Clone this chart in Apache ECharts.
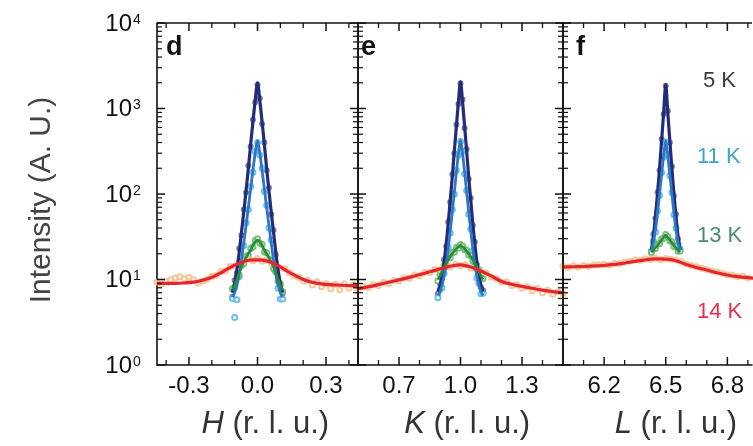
<!DOCTYPE html>
<html>
<head>
<meta charset="utf-8">
<script src="https://cdn.jsdelivr.net/npm/echarts@6/dist/echarts.min.js"></script>
<style>
  html, body { margin: 0; padding: 0; background: #fff; }
  #chart { width: 753px; height: 446px; }
</style>
</head>
<body>
<div id="chart"></div>
<script>
// ---- Panel d: scan along H ----
const hPk = [-0.11,-0.10,-0.09,-0.08,-0.07,-0.06,-0.05,-0.04,-0.03,-0.02,-0.01,0,0.01,0.02,0.03,0.04,0.05,0.06,0.07,0.08,0.09,0.10,0.11];
const d5Fit  = [7,9,13,21,36,62,110,200,380,700,1250,2000,1250,700,380,200,110,62,36,21,13,9,7];
const d5Pts  = [6.3,9.8,12,23,33,66,104,215,360,740,1180,1900,1320,660,400,190,118,58,38,19.5,14,8.4,6.8];
const d11Fit = [6.2,7,8.5,11.5,17,27,43,70,115,190,300,420,300,190,115,70,43,27,17,11.5,8.5,7,6.2];
const d11Pts = [6.0,3.6,5.8,10.8,18,25,46,66,122,180,315,400,285,200,108,74,40,29,16,12.3,7.9,5.9,5.9];
const d13Fit = [7.5,8.5,10,12,14,16,18,20,22,25,27.5,29,27.5,25,22,20,18,16,14,12,10,8.5,7.5];
const d13Pts = [7.8,8.1,10.6,11.4,14.6,15.3,18.8,19.2,23,24,28.5,30,26.5,25.8,21,20.6,17.2,16.8,13.4,12.5,9.6,8.9,7.2];
const hWide  = [-0.44,-0.40,-0.36,-0.32,-0.28,-0.24,-0.20,-0.16,-0.12,-0.08,-0.04,0,0.04,0.08,0.12,0.16,0.20,0.24,0.28,0.32,0.36,0.40,0.44];
const d14Fit = [9.0,9.0,9.0,9.1,9.3,9.8,10.6,12,13.8,15.5,16.8,17,16.5,15,13,11.3,10,9.3,8.9,8.7,8.6,8.5,8.5];
const hPts14 = [-0.44,-0.42,-0.40,-0.38,-0.36,-0.34,-0.32,-0.30,-0.28,-0.26,-0.24,-0.22,-0.20,-0.18,-0.16,-0.14,-0.12,-0.10,-0.08,-0.06,-0.04,-0.02,0,0.02,0.04,0.06,0.08,0.10,0.12,0.14,0.16,0.18,0.20,0.22,0.24,0.26,0.28,0.30,0.32,0.34,0.36,0.38,0.40,0.42,0.44];
const d14Pts = [9.3,8.8,9.5,9.9,10.4,10.8,10.2,10.6,9.9,9.1,9.6,10.1,10.9,11.2,12.4,12.6,14.2,14.4,15.9,16.1,17.3,16.6,17.6,16.4,16.9,15.4,15.3,13.6,13.4,11.9,11.0,10.6,9.6,9.8,8.6,9.4,8.2,8.9,7.8,8.8,7.6,8.9,7.9,8.7,8.2];

// ---- Panel e: scan along K ----
const kPk = [0.89,0.90,0.91,0.92,0.93,0.94,0.95,0.96,0.97,0.98,0.99,1.00,1.01,1.02,1.03,1.04,1.05,1.06,1.07,1.08,1.09,1.10,1.11];
const e5Fit  = [7.2,8.5,11,16,26,45,85,160,320,620,1200,2050,1200,620,320,160,85,45,26,16,11,8.5,7.2];
const e5Pts  = [6.8,8.9,10.4,17,24.5,47,80,170,300,650,1130,1980,1270,590,335,150,90,43,27.5,15,11.6,8.1,7.5];
const e11Fit = [6.5,7.2,8.5,11,15,23,37,62,105,180,300,430,300,180,105,62,37,23,15,11,8.5,7.2,6.5];
const e11Pts = [6.1,7.6,8.0,11.8,14.2,24,35,66,99,190,285,410,315,172,110,58,39,21.5,15.8,10.4,9.0,6.8,6.9];
const e13Fit = [10,11,12.5,14,15.5,17,18.5,20,21.5,23,24,25,24,23,21.5,20,18.5,17,15.5,14,12.5,11,10];
const e13Pts = [9.6,11.5,12.1,14.6,15.0,17.8,18.0,20.8,20.9,23.8,23.4,25.6,24.6,22.3,22.2,19.4,19.1,16.4,16.1,13.5,13.0,10.5,10.3];
const kWide  = [0.50,0.55,0.60,0.65,0.70,0.75,0.80,0.85,0.90,0.95,1.00,1.05,1.10,1.15,1.20,1.25,1.30,1.35,1.40,1.45,1.50];
const e14Fit = [7.8,8.2,8.7,9.3,9.9,10.6,11.4,12.3,13.3,14.3,14.8,14.0,12.6,11.0,9.5,8.8,8.3,7.9,7.5,7.2,7.0];
const kPts14 = [0.500,0.525,0.550,0.575,0.600,0.625,0.650,0.675,0.700,0.725,0.750,0.775,0.800,0.825,0.850,0.875,0.900,0.925,0.950,0.975,1.000,1.025,1.050,1.075,1.100,1.125,1.150,1.175,1.200,1.225,1.250,1.275,1.300,1.325,1.350,1.375,1.400,1.425,1.450,1.475,1.500];
const e14Pts = [7.5,8.3,8.0,8.7,8.5,9.2,9.0,9.8,9.6,10.5,10.3,11.3,11.0,12.1,12.0,13.1,12.9,14.0,14.0,15.1,14.5,14.9,13.6,13.5,12.2,11.9,10.6,10.3,9.3,9.4,8.5,8.7,7.9,8.2,7.4,7.9,7.0,7.5,6.7,7.2,6.8];

// ---- Panel f: scan along L ----
const lPk = [6.43,6.44,6.45,6.46,6.47,6.48,6.49,6.50,6.51,6.52,6.53,6.54,6.55,6.56,6.57];
const f5Fit  = [22,32,55,100,200,420,900,1900,900,420,200,100,55,32,22];
const f5Pts  = [21,34,52,105,190,440,860,1850,940,400,210,95,58,30,23];
const f11Fit = [22,27,38,60,100,170,280,420,280,170,100,60,38,27,22];
const f11Pts = [21.5,28,36,63,96,178,270,405,290,165,104,57,40,26,22.5];
const f13Fit = [21,22,23.5,25,27,29,31,33,31,29,27,25,23.5,22,21];
const f13Pts = [20.5,22.8,23,25.8,26.4,29.8,30.4,33.6,31.8,28.3,27.6,24.3,24.1,21.4,21.6];
const lWide  = [6.00,6.05,6.10,6.15,6.20,6.25,6.30,6.35,6.40,6.45,6.50,6.55,6.60,6.65,6.70,6.75,6.80,6.85,6.90,6.95,7.00];
const f14Fit = [14.0,14.1,14.2,14.4,14.6,15.0,15.6,16.3,17.0,17.4,17.3,16.6,15.0,13.8,12.9,12.0,11.3,10.8,10.5,10.3,10.2];
const lPts14 = [6.000,6.025,6.050,6.075,6.100,6.125,6.150,6.175,6.200,6.225,6.250,6.275,6.300,6.325,6.350,6.375,6.400,6.425,6.450,6.475,6.500,6.525,6.550,6.575,6.600,6.625,6.650,6.675,6.700,6.725,6.750,6.775,6.800,6.825,6.850,6.875,6.900,6.925,6.950,6.975,7.000];
const f14Pts = [14.3,13.8,14.5,14.0,14.6,14.2,14.8,14.9,15.1,14.7,15.4,15.3,16.0,16.4,16.9,16.8,17.5,17.1,17.8,17.0,17.6,17.2,16.9,16.1,15.2,14.6,14.1,13.5,13.1,12.6,12.2,11.8,11.4,11.2,10.8,10.9,10.4,10.6,10.2,10.5,10.1];

// ---- Axis ticks and labels ----
const hMajor = [-0.3, 0, 0.3];
const hMinor = [-0.4,-0.2,-0.1,0.1,0.2,0.4];
const kMajor = [0.7, 1.0, 1.3];
const kMinor = [0.6,0.8,0.9,1.1,1.2,1.4];
const lMajor = [6.2, 6.5, 6.8];
const lMinor = [6.1,6.3,6.4,6.6,6.7,6.9];
const yMajor = [1, 10, 100, 1000, 10000];
const yMinor = [2,3,4,5,6,7,8,9,20,30,40,50,60,70,80,90,200,300,400,500,600,700,800,900,2000,3000,4000,5000,6000,7000,8000,9000];
const temps = ['5 K', '11 K', '13 K', '14 K'];
const letters = ['d', 'e', 'f'];
const axisVars = ['H', 'K', 'L'];
const axisUnit = ' (r. l. u.)';
const yTitle = 'Intensity (A. U.)';

const FONT = 'Liberation Sans, Arial, sans-serif';
const INK = '#111111';
const COL = {
  p5: '#1d2462', l5: '#222c78',
  p11: '#55b6e8', l11: '#2c78c6',
  p13: '#62b866', l13: '#2a8a3a',
  p14: '#f5b478', l14: '#e5262f'
};
const TEXT_COL = ['#3a3a3a', '#3ea6c9', '#4b8b6d', '#e8304e'];

// the last panel runs on past the right edge of the figure
const grids = [
  { left: 157, top: 23, width: 201, height: 342 },
  { left: 358, top: 23, width: 205, height: 342 },
  { left: 563, top: 23, width: 189, height: 342 }
];
const ranges = [[-0.44, 0.44], [0.5, 1.5], [6.0, 6.92]];
const majors = [hMajor, kMajor, lMajor];
const minors = [hMinor, kMinor, lMinor];
const hasRightEdge = [true, true, false];

const xAxis = [];
const yAxis = [];
grids.forEach((g, i) => {
  const [mn, mx] = ranges[i];
  xAxis.push({
    type: 'value', gridIndex: i, min: mn, max: mx, position: 'bottom', splitLine: { show: false },
    axisLine: { show: true, onZero: false, lineStyle: { color: INK, width: 1.6 } },
    axisTick: { show: false },
    axisLabel: { customValues: majors[i], formatter: v => v.toFixed(1), fontSize: 24, fontFamily: FONT, color: INK, margin: 9 }
  });
  yAxis.push({
    type: 'log', gridIndex: i, min: 1, max: 10000, position: 'left', splitLine: { show: false },
    axisLine: { show: true, onZero: false, lineStyle: { color: INK, width: 1.6 } },
    axisTick: { show: false }, axisLabel: { show: false }
  });
});

const zip = (xs, ys) => xs.map((x, k) => [x, ys[k]]);

function pts(panel, xs, ys, color, size, opacity) {
  return {
    type: 'scatter', xAxisIndex: panel, yAxisIndex: panel,
    data: zip(xs, ys), symbol: 'emptyCircle', symbolSize: size,
    itemStyle: { color: color, borderColor: color, borderWidth: 1.2, opacity: opacity },
    animation: false, clip: true
  };
}
function fit(panel, xs, ys, color, width) {
  return {
    type: 'line', xAxisIndex: panel, yAxisIndex: panel,
    data: zip(xs, ys), showSymbol: false, smooth: 0.3,
    lineStyle: { color: color, width: width }, animation: false, clip: true
  };
}

const series = [
  pts(0, hPk, d5Pts, COL.p5, 4, 0.6), fit(0, hPk, d5Fit, COL.l5, 3.2),
  pts(0, hPk, d11Pts, COL.p11, 5, 0.85), fit(0, hPk, d11Fit, COL.l11, 2.8),
  pts(0, hPk, d13Pts, COL.p13, 5, 0.85), fit(0, hPk, d13Fit, COL.l13, 2.6),
  pts(0, hPts14, d14Pts, COL.p14, 5, 0.75), fit(0, hWide, d14Fit, COL.l14, 3.2),

  pts(1, kPk, e5Pts, COL.p5, 4, 0.6), fit(1, kPk, e5Fit, COL.l5, 3.2),
  pts(1, kPk, e11Pts, COL.p11, 5, 0.85), fit(1, kPk, e11Fit, COL.l11, 2.8),
  pts(1, kPk, e13Pts, COL.p13, 5, 0.85), fit(1, kPk, e13Fit, COL.l13, 2.6),
  pts(1, kPts14, e14Pts, COL.p14, 5, 0.75), fit(1, kWide, e14Fit, COL.l14, 3.2),

  pts(2, lPk, f5Pts, COL.p5, 4, 0.6), fit(2, lPk, f5Fit, COL.l5, 3.2),
  pts(2, lPk, f11Pts, COL.p11, 5, 0.85), fit(2, lPk, f11Fit, COL.l11, 2.8),
  pts(2, lPk, f13Pts, COL.p13, 5, 0.85), fit(2, lPk, f13Fit, COL.l13, 2.6),
  pts(2, lPts14, f14Pts, COL.p14, 5, 0.75), fit(2, lWide, f14Fit, COL.l14, 3.2)
];

const chart = echarts.init(document.getElementById('chart'));
chart.setOption({
  backgroundColor: '#ffffff',
  animation: false,
  grid: grids,
  xAxis: xAxis,
  yAxis: yAxis,
  series: series
});

// ---- frame, ticks and texts, placed through each panel's axes ----
const graphic = [];
const txt = (x, y, text, font, fill, align, vAlign, extra) => graphic.push(Object.assign({
  type: 'text', x: x, y: y, z: 50,
  style: { text: text, font: font, fill: fill, align: align, verticalAlign: vAlign }
}, extra || {}));
const seg = (x1, y1, x2, y2, w) => graphic.push({
  type: 'line', z: 45, shape: { x1: x1, y1: y1, x2: x2, y2: y2 }, style: { stroke: INK, lineWidth: w }
});
const toPx = (i, p) => chart.convertToPixel({ xAxisIndex: i, yAxisIndex: i }, p);

grids.forEach((g, i) => {
  const [mn, mx] = ranges[i];
  const bottom = toPx(i, [mn, 1])[1];
  const top = toPx(i, [mn, 10000])[1];
  const left = toPx(i, [mn, 1])[0];
  const right = toPx(i, [mx, 1])[0];
  // top edge and (where visible) right edge of the panel box
  seg(left, top, right, top, 1.6);
  if (hasRightEdge[i]) seg(right, top, right, bottom, 1.6);
  const xTicks = (vals, len, w) => vals.forEach(v => {
    const x = toPx(i, [v, 10])[0];
    seg(x, bottom, x, bottom - len, w);
    seg(x, top, x, top + len, w);
  });
  const yTicks = (vals, len, w) => vals.forEach(v => {
    const y = toPx(i, [mn, v])[1];
    seg(left, y, left + len, y, w);
    if (hasRightEdge[i]) seg(right, y, right - len, y, w);
  });
  xTicks(majors[i], 8, 1.5);
  xTicks(minors[i], 5, 1.3);
  yTicks(yMajor, 8, 1.5);
  yTicks(yMinor, 5, 1.2);
});

// decade labels 10^n on the first panel
yMajor.forEach(v => {
  const p = toPx(0, [ranges[0][0], v]);
  txt(p[0] - 25, p[1] + 1, '10', '24px ' + FONT, INK, 'right', 'middle');
  txt(p[0] - 24, p[1] - 10, String(Math.round(Math.log10(v))), '14px ' + FONT, INK, 'left', 'top');
});

// axis titles
txt(42, 200, yTitle, '30px ' + FONT, '#444', 'center', 'middle', { rotation: Math.PI / 2 });
const unitStart = [224, 425, 632];
axisVars.forEach((t, i) => {
  txt(unitStart[i], 424, t, 'italic 31px ' + FONT, '#333', 'right', 'middle');
  txt(unitStart[i], 424, axisUnit, '31px ' + FONT, '#333', 'left', 'middle');
});

// panel letters and temperature labels
const letterX = [166, 361, 576];
letters.forEach((t, i) => txt(letterX[i], 48, t, 'bold 27px ' + FONT, '#111', 'left', 'middle'));
const tempY = [81, 157, 236, 312];
temps.forEach((t, i) => txt(i === 0 ? 703 : 697, tempY[i], t, '22px ' + FONT, TEXT_COL[i], 'left', 'middle'));

chart.setOption({ graphic: graphic });
</script>
</body>
</html>
